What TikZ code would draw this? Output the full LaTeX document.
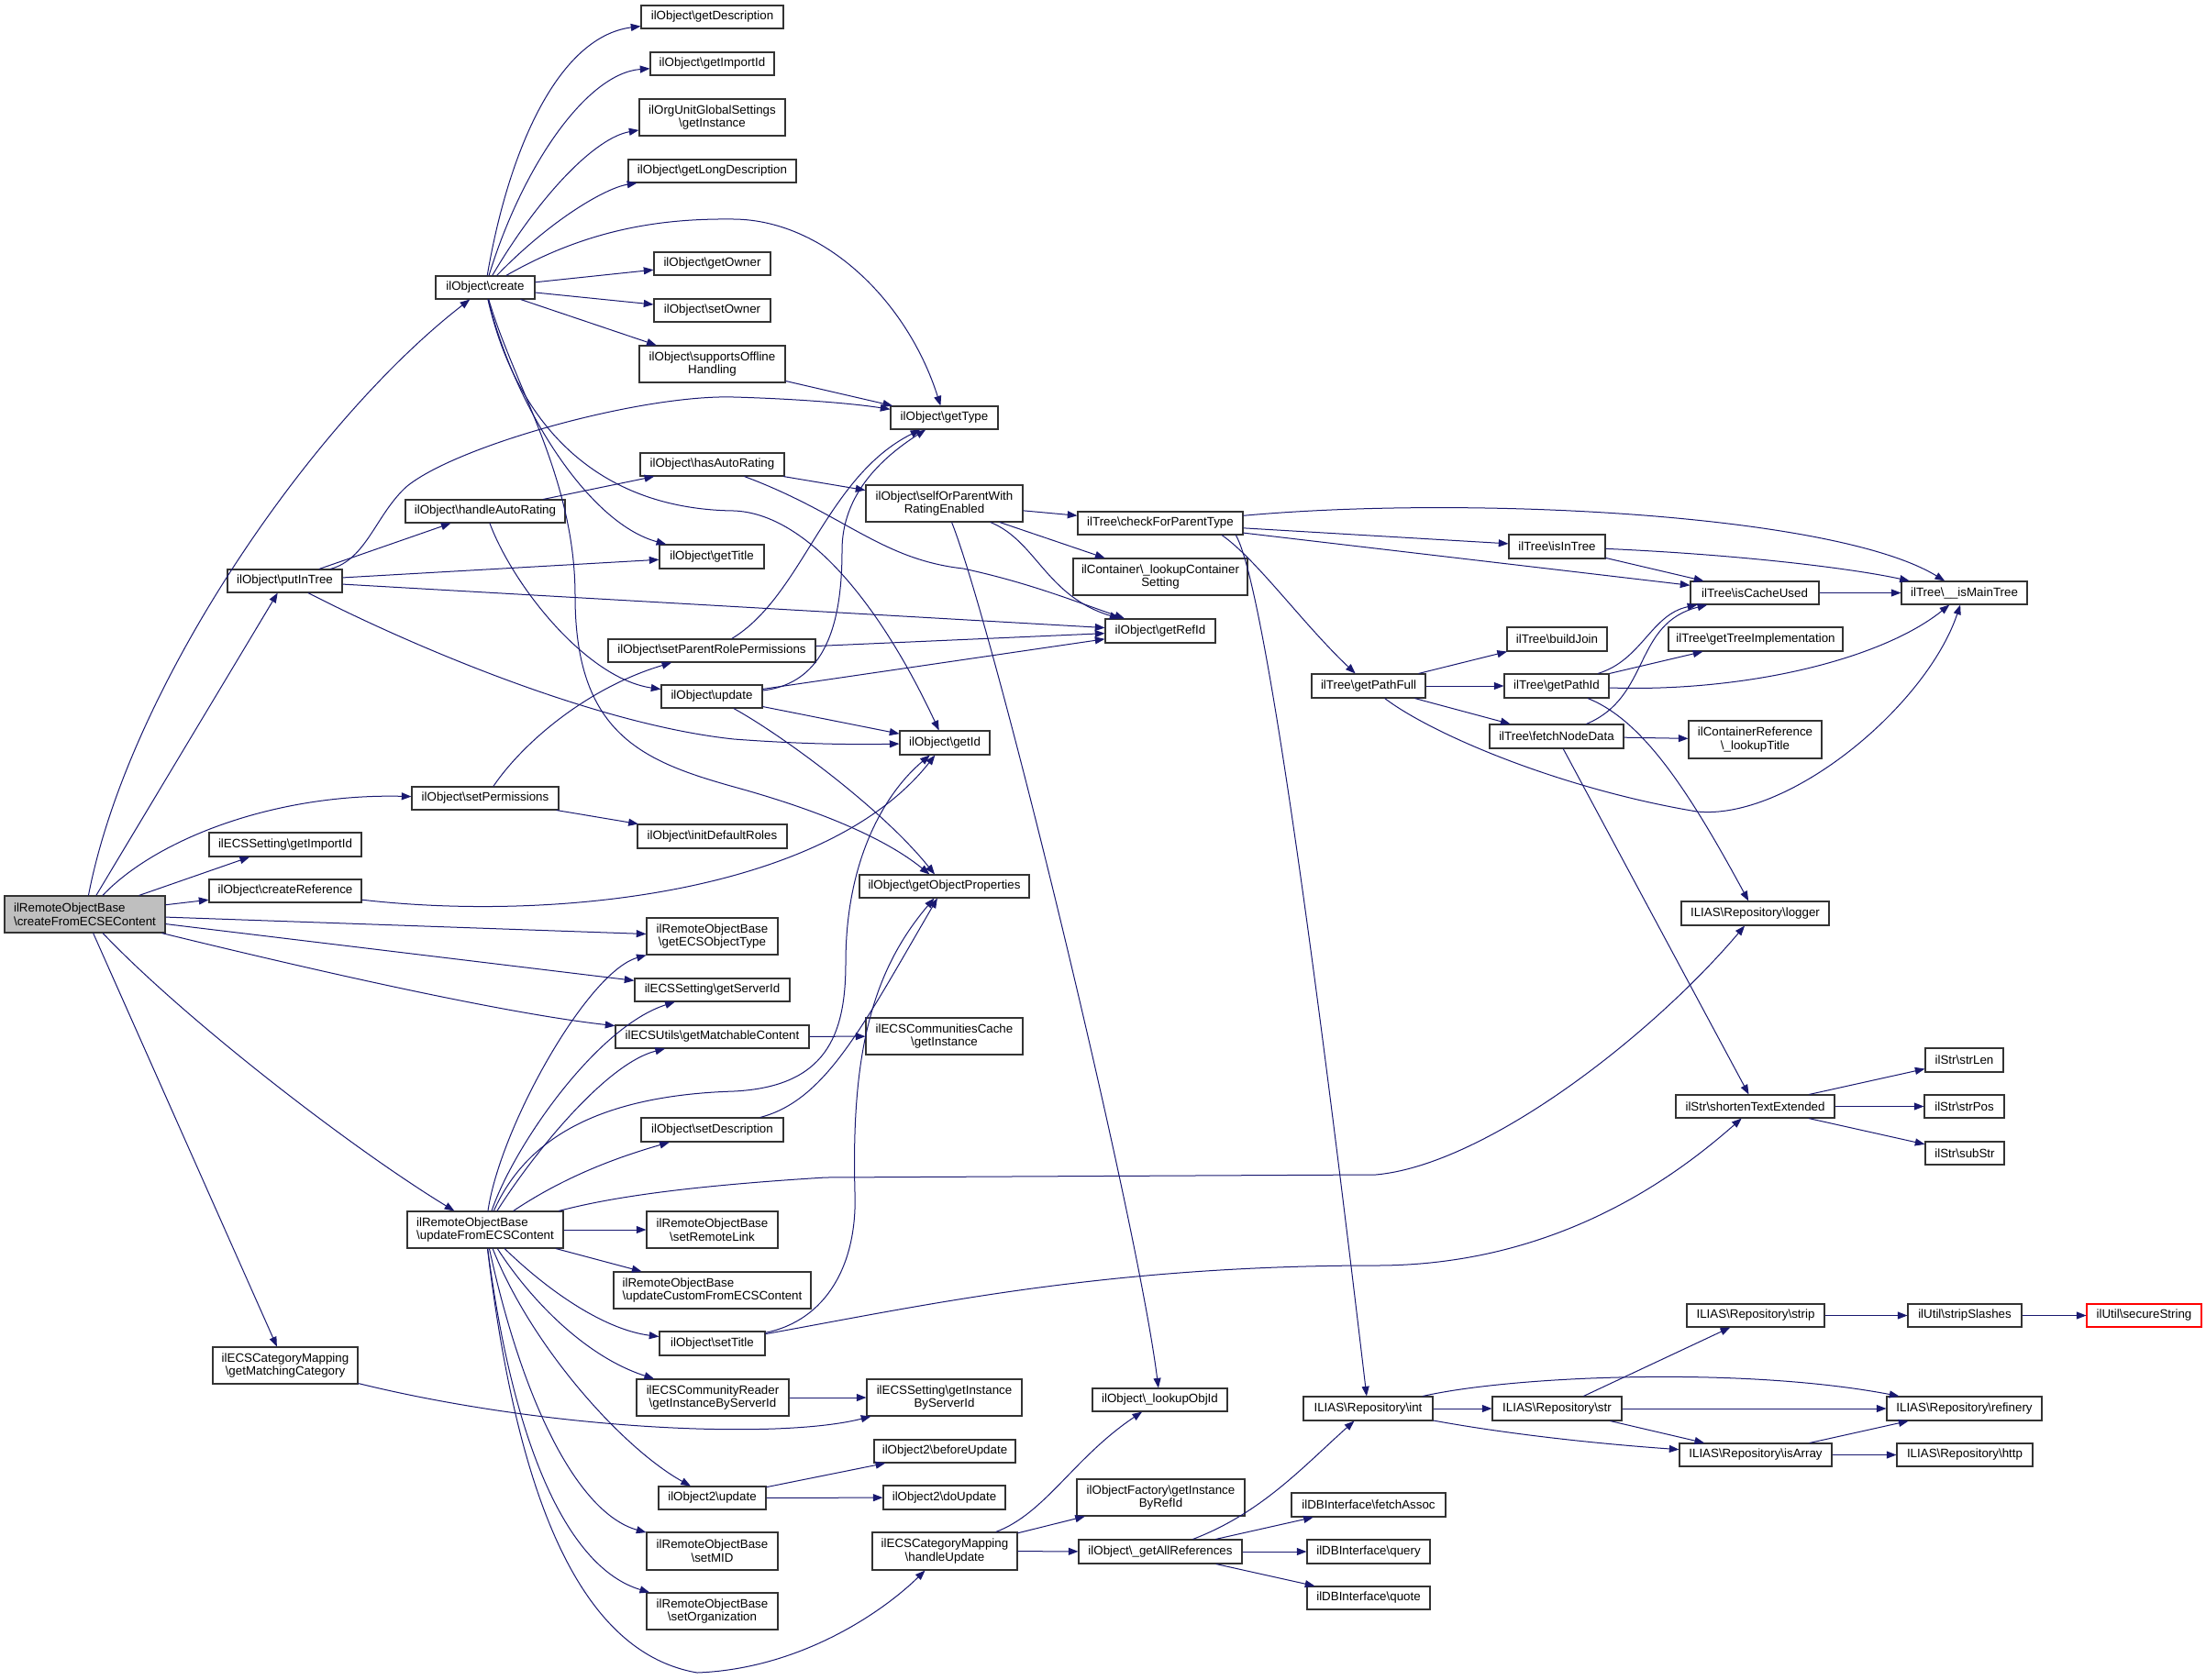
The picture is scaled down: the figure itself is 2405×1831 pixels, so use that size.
\documentclass[tikz,border=0pt]{standalone}
\usepackage{fontspec}
\setmainfont{Liberation Sans}
\usetikzlibrary{arrows.meta}
\definecolor{edgec}{HTML}{191970}
\definecolor{rootfill}{HTML}{BFBFBF}
\tikzset{
  box/.style={draw=black!80, line width=0.8pt, fill=white, inner sep=1pt, align=center,
    font=\fontsize{10}{11}\selectfont},
  edge/.style={draw=edgec, line width=0.75pt, -{Triangle[length=8pt,width=6pt]}}
}
\newcommand\nd[7][]{\node[box,#1,minimum width={(#5-#3)*0.75pt},minimum height={(#6-#4)*0.75pt}] (#2) at ({(#3+#5)/2},{(#4+#6)/2}) {#7};}
\newcommand\bs{\textbackslash}
\begin{document}
\begin{tikzpicture}[x=0.75pt,y=-0.75pt]
\useasboundingbox (0,0) rectangle (2405,1831);
\fill[white] (0,0) rectangle (2405,1831);
% nodes
\nd[fill=rootfill,align=left]{root}{5}{977}{180}{1017}{ilRemoteObjectBase\\\bs createFromECSEContent}
\nd{create}{475}{301}{583}{326}{ilObject\bs create}
\nd{getDesc}{699}{6}{854}{31}{ilObject\bs getDescription}
\nd{getImportId}{709}{57}{844}{82}{ilObject\bs getImportId}
\nd{orgInst}{697}{108}{856}{148}{ilOrgUnitGlobalSettings\\\bs getInstance}
\nd{getLongDesc}{685}{174}{868}{199}{ilObject\bs getLongDescription}
\nd{getOwner}{713}{275}{840}{300}{ilObject\bs getOwner}
\nd{setOwner}{713}{326}{840}{351}{ilObject\bs setOwner}
\nd{offline}{697}{377}{856}{417}{ilObject\bs supportsOffline\\Handling}
\nd{getType}{971}{443}{1088}{468}{ilObject\bs getType}
\nd{hasAuto}{698}{494}{855}{519}{ilObject\bs hasAutoRating}
\nd{handleAuto}{442}{545}{616}{570}{ilObject\bs handleAutoRating}
\nd{selfOr}{944}{529}{1115}{569}{ilObject\bs selfOrParentWith\\RatingEnabled}
\nd{getTitle}{719}{594}{833}{620}{ilObject\bs getTitle}
\nd{putInTree}{248}{621}{373}{646}{ilObject\bs putInTree}
\nd{checkParent}{1175}{558}{1355}{583}{ilTree\bs checkForParentType}
\nd{lookupCont}{1170}{609}{1360}{649}{ilContainer\bs \_lookupContainer\\Setting}
\nd{getRefId}{1205}{675}{1325}{701}{ilObject\bs getRefId}
\nd{setParentRole}{663}{697}{889}{722}{ilObject\bs setParentRolePermissions}
\nd{objUpdate}{721}{747}{831}{772}{ilObject\bs update}
\nd{getId}{981}{797}{1079}{823}{ilObject\bs getId}
\nd{setPerm}{449}{858}{609}{883}{ilObject\bs setPermissions}
\nd{initRoles}{695}{899}{858}{925}{ilObject\bs initDefaultRoles}
\nd{ecsImport}{228}{908}{394}{934}{ilECSSetting\bs getImportId}
\nd{getObjProps}{937}{954}{1122}{979}{ilObject\bs getObjectProperties}
\nd{createRef}{228}{959}{394}{984}{ilObject\bs createReference}
\nd{ecsObjType}{705}{1001}{848}{1041}{ilRemoteObjectBase\\\bs getECSObjectType}
\nd{serverId}{692}{1067}{861}{1092}{ilECSSetting\bs getServerId}
\nd{matchable}{671}{1118}{882}{1143}{ilECSUtils\bs getMatchableContent}
\nd{commCache}{944}{1110}{1115}{1150}{ilECSCommunitiesCache\\\bs getInstance}
\nd{setDesc}{699}{1219}{854}{1245}{ilObject\bs setDescription}
\nd[align=left]{updFrom}{444}{1321}{614}{1361}{ilRemoteObjectBase\\\bs updateFromECSContent}
\nd{setRemote}{705}{1321}{848}{1361}{ilRemoteObjectBase\\\bs setRemoteLink}
\nd[align=left]{updCustom}{669}{1387}{884}{1427}{ilRemoteObjectBase\\\bs updateCustomFromECSContent}
\nd{setTitle}{719}{1452}{834}{1478}{ilObject\bs setTitle}
\nd{matchCat}{232}{1469}{390}{1509}{ilECSCategoryMapping\\\bs getMatchingCategory}
\nd{commReader}{694}{1504}{860}{1544}{ilECSCommunityReader\\\bs getInstanceByServerId}
\nd{ecsInst}{945}{1504}{1114}{1544}{ilECSSetting\bs getInstance\\ByServerId}
\nd{obj2upd}{718}{1621}{835}{1646}{ilObject2\bs update}
\nd{beforeUpd}{953}{1570}{1107}{1595}{ilObject2\bs beforeUpdate}
\nd{doUpd}{963}{1620}{1096}{1646}{ilObject2\bs doUpdate}
\nd{setMID}{705}{1671}{848}{1712}{ilRemoteObjectBase\\\bs setMID}
\nd{setOrg}{705}{1737}{848}{1777}{ilRemoteObjectBase\\\bs setOrganization}
\nd{lookupObjId}{1191}{1514}{1338}{1539}{ilObject\bs \_lookupObjId}
\nd{factory}{1174}{1613}{1357}{1653}{ilObjectFactory\bs getInstance\\ByRefId}
\nd{handleUpd}{951}{1671}{1109}{1712}{ilECSCategoryMapping\\\bs handleUpdate}
\nd{allRefs}{1176}{1679}{1354}{1705}{ilObject\bs \_getAllReferences}
\nd{repInt}{1421}{1523}{1562}{1549}{ILIAS\bs Repository\bs int}
\nd{fetchAssoc}{1408}{1628}{1576}{1654}{ilDBInterface\bs fetchAssoc}
\nd{query}{1425}{1679}{1559}{1705}{ilDBInterface\bs query}
\nd{quote}{1425}{1730}{1559}{1755}{ilDBInterface\bs quote}
\nd{isInTree}{1645}{583}{1750}{609}{ilTree\bs isInTree}
\nd{cacheUsed}{1843}{634}{1983}{659}{ilTree\bs isCacheUsed}
\nd{mainTree}{2073}{634}{2210}{659}{ilTree\bs \_\_isMainTree}
\nd{buildJoin}{1643}{684}{1752}{710}{ilTree\bs buildJoin}
\nd{treeImpl}{1819}{684}{2009}{710}{ilTree\bs getTreeImplementation}
\nd{getPathFull}{1430}{735}{1554}{761}{ilTree\bs getPathFull}
\nd{getPathId}{1640}{735}{1754}{761}{ilTree\bs getPathId}
\nd{fetchNode}{1624}{790}{1770}{816}{ilTree\bs fetchNodeData}
\nd{lookupTitle}{1841}{786}{1986}{827}{ilContainerReference\\\bs \_lookupTitle}
\nd{logger}{1833}{983}{1994}{1009}{ILIAS\bs Repository\bs logger}
\nd{strLen}{2099}{1143}{2184}{1169}{ilStr\bs strLen}
\nd{shorten}{1827}{1194}{2000}{1219}{ilStr\bs shortenTextExtended}
\nd{strPos}{2098}{1194}{2185}{1219}{ilStr\bs strPos}
\nd{subStr}{2099}{1245}{2185}{1270}{ilStr\bs subStr}
\nd{strip}{1839}{1422}{1989}{1447}{ILIAS\bs Repository\bs strip}
\nd{stripSl}{2080}{1422}{2204}{1447}{ilUtil\bs stripSlashes}
\nd[draw=red]{secure}{2275}{1422}{2400}{1447}{ilUtil\bs secureString}
\nd{repStr}{1627}{1523}{1768}{1549}{ILIAS\bs Repository\bs str}
\nd{refinery}{2057}{1523}{2226}{1549}{ILIAS\bs Repository\bs refinery}
\nd{isArray}{1831}{1574}{1997}{1599}{ILIAS\bs Repository\bs isArray}
\nd{http}{2068}{1574}{2216}{1599}{ILIAS\bs Repository\bs http}
% edges from root
\draw[edge] (root) .. controls (140,750) and (340,460) .. (create);
\draw[edge] (root) -- (putInTree);
\draw[edge] (root) .. controls (170,915) and (300,865) .. (setPerm);
\draw[edge] (root) -- (ecsImport);
\draw[edge] (root) -- (createRef);
\draw[edge] (root) -- (ecsObjType);
\draw[edge] (root) -- (serverId);
\draw[edge] (root) .. controls (350,1060) and (550,1105) .. (matchable);
\draw[edge] (root) .. controls (200,1110) and (380,1250) .. (updFrom);
\draw[edge] (root) -- (matchCat);
% create
\draw[edge] (create) .. controls (555,160) and (610,40) .. (getDesc);
\draw[edge] (create) .. controls (570,180) and (640,80) .. (getImportId);
\draw[edge] (create) .. controls (590,210) and (650,150) .. (orgInst);
\draw[edge] (create) .. controls (600,240) and (660,205) .. (getLongDesc);
\draw[edge] (create) .. controls (640,250) and (720,238) .. (800,239) .. controls (900,240) and (990,330) .. (getType);
\draw[edge] (create) -- (getOwner);
\draw[edge] (create) -- (setOwner);
\draw[edge] (create) -- (offline);
\draw[edge] (create) .. controls (560,440) and (640,570) .. (getTitle);
\draw[edge] (create) .. controls (560,450) and (640,555) .. (800,557) .. controls (880,560) and (960,660) .. (getId);
\draw[edge] (create) .. controls (560,420) and (627,520) .. (627,650) .. controls (627,800) and (700,830) .. (800,858) .. controls (880,880) and (960,910) .. (getObjProps);
% putInTree
\draw[edge] (putInTree) -- (handleAuto);
\draw[edge] (putInTree) .. controls (400,610) and (410,560) .. (444,530) .. controls (500,485) and (700,430) .. (800,433) .. controls (870,435) and (930,440) .. (getType);
\draw[edge] (putInTree) -- (getTitle);
\draw[edge] (putInTree) -- (getRefId);
\draw[edge] (putInTree) .. controls (450,705) and (650,790) .. (800,806) .. controls (880,812) and (940,812) .. (getId);
% handleAutoRating / hasAutoRating
\draw[edge] (handleAuto) -- (hasAuto);
\draw[edge] (handleAuto) .. controls (560,640) and (640,740) .. (objUpdate);
\draw[edge] (hasAuto) -- (selfOr);
\draw[edge] (hasAuto) .. controls (920,560) and (960,610) .. (1050,620) .. controls (1120,635) and (1170,655) .. (getRefId);
\draw[edge] (offline) -- (getType);
% setParentRolePermissions / update
\draw[edge] (setParentRole) .. controls (875,650) and (900,520) .. (getType);
\draw[edge] (objUpdate) .. controls (900,745) and (918,680) .. (918,600) .. controls (918,540) and (960,500) .. (getType);
\draw[edge] (setParentRole) -- (getRefId);
\draw[edge] (objUpdate) -- (getRefId);
\draw[edge] (objUpdate) -- (getId);
\draw[edge] (objUpdate) .. controls (850,800) and (960,880) .. (getObjProps);
% selfOrParentWithRatingEnabled
\draw[edge] (selfOr) -- (checkParent);
\draw[edge] (selfOr) -- (lookupCont);
\draw[edge] (selfOr) .. controls (1130,590) and (1140,650) .. (getRefId);
\draw[edge] (selfOr) .. controls (1085,690) and (1240,1330) .. (lookupObjId);
% checkForParentType
\draw[edge] (checkParent) .. controls (1600,540) and (2000,560) .. (mainTree);
\draw[edge] (checkParent) -- (isInTree);
\draw[edge] (checkParent) -- (cacheUsed);
\draw[edge] (checkParent.-11) .. controls (1370,610) and (1420,680) .. (getPathFull);
\draw[edge] (checkParent.-9) .. controls (1380,640) and (1440,1100) .. (repInt);
\draw[edge] (isInTree) -- (cacheUsed);
\draw[edge] (isInTree) .. controls (1900,605) and (2020,620) .. (mainTree);
\draw[edge] (cacheUsed) -- (mainTree);
% getPathFull
\draw[edge] (getPathFull) -- (buildJoin);
\draw[edge] (getPathFull) -- (getPathId);
\draw[edge] (getPathFull) -- (fetchNode);
\draw[edge] (getPathFull) .. controls (1560,800) and (1700,860) .. (1850,885) .. controls (1950,895) and (2100,770) .. (mainTree);
\draw[edge] (getPathId) .. controls (1790,720) and (1800,670) .. (cacheUsed);
\draw[edge] (getPathId) -- (treeImpl);
\draw[edge] (getPathId) .. controls (1900,755) and (2050,720) .. (mainTree);
\draw[edge] (getPathId) .. controls (1790,785) and (1840,860) .. (logger);
\draw[edge] (fetchNode) .. controls (1800,760) and (1780,680) .. (cacheUsed);
\draw[edge] (fetchNode) -- (lookupTitle);
\draw[edge] (fetchNode) -- (shorten);
% updateFromECSContent
\draw[edge] (updFrom) .. controls (545,1230) and (640,1060) .. (ecsObjType);
\draw[edge] (updFrom) .. controls (560,1250) and (650,1120) .. (serverId);
\draw[edge] (updFrom) .. controls (580,1260) and (660,1160) .. (matchable);
\draw[edge] (updFrom) .. controls (570,1250) and (640,1195) .. (800,1190) .. controls (900,1185) and (922,1130) .. (922,1050) .. controls (922,930) and (970,860) .. (getId);
\draw[edge] (updFrom) .. controls (620,1280) and (680,1260) .. (setDesc);
\draw[edge] (updFrom) .. controls (650,1310) and (720,1295) .. (900,1284) -- (1500,1281) .. controls (1620,1270) and (1800,1130) .. (logger);
\draw[edge] (updFrom) -- (setRemote);
\draw[edge] (updFrom) -- (updCustom);
\draw[edge] (updFrom) .. controls (600,1410) and (660,1450) .. (setTitle);
\draw[edge] (updFrom) .. controls (580,1420) and (640,1480) .. (commReader);
\draw[edge] (updFrom) .. controls (580,1470) and (680,1580) .. (obj2upd);
\draw[edge] (updFrom) .. controls (570,1530) and (630,1650) .. (setMID);
\draw[edge] (updFrom) .. controls (560,1580) and (620,1710) .. (setOrg);
\draw[edge] (updFrom) .. controls (560,1600) and (620,1800) .. (760,1824) .. controls (870,1820) and (960,1760) .. (handleUpd);
% setDescription / setTitle
\draw[edge] (setDesc) .. controls (900,1200) and (940,1120) .. (getObjProps);
\draw[edge] (setTitle) .. controls (900,1440) and (935,1380) .. (932,1300) .. controls (928,1150) and (950,1060) .. (getObjProps);
\draw[edge] (setTitle) .. controls (1000,1425) and (1200,1380) .. (1500,1380) .. controls (1700,1380) and (1830,1280) .. (shorten);
% misc
\draw[edge] (createRef) .. controls (600,1005) and (900,975) .. (getId);
\draw[edge] (matchable) -- (commCache);
\draw[edge] (matchCat) .. controls (600,1560) and (850,1570) .. (ecsInst);
\draw[edge] (commReader) -- (ecsInst);
\draw[edge] (obj2upd) -- (beforeUpd);
\draw[edge] (obj2upd) -- (doUpd);
\draw[edge] (setPerm) .. controls (570,810) and (640,750) .. (setParentRole);
\draw[edge] (setPerm) -- (initRoles);
% handleUpdate
\draw[edge] (handleUpd) .. controls (1140,1650) and (1170,1590) .. (lookupObjId);
\draw[edge] (handleUpd) -- (factory);
\draw[edge] (handleUpd) -- (allRefs);
\draw[edge] (allRefs) .. controls (1375,1650) and (1420,1600) .. (repInt);
\draw[edge] (allRefs) -- (fetchAssoc);
\draw[edge] (allRefs) -- (query);
\draw[edge] (allRefs) -- (quote);
% ilStr
\draw[edge] (shorten) -- (strLen);
\draw[edge] (shorten) -- (strPos);
\draw[edge] (shorten) -- (subStr);
% Repository
\draw[edge] (repInt) -- (repStr);
\draw[edge] (repInt) .. controls (1650,1500) and (1900,1490) .. (refinery);
\draw[edge] (repInt) .. controls (1650,1565) and (1750,1575) .. (isArray);
\draw[edge] (repStr) -- (strip);
\draw[edge] (repStr) -- (refinery);
\draw[edge] (repStr) -- (isArray);
\draw[edge] (isArray) -- (refinery);
\draw[edge] (isArray) -- (http);
\draw[edge] (strip) -- (stripSl);
\draw[edge] (stripSl) -- (secure);
\end{tikzpicture}
\end{document}
